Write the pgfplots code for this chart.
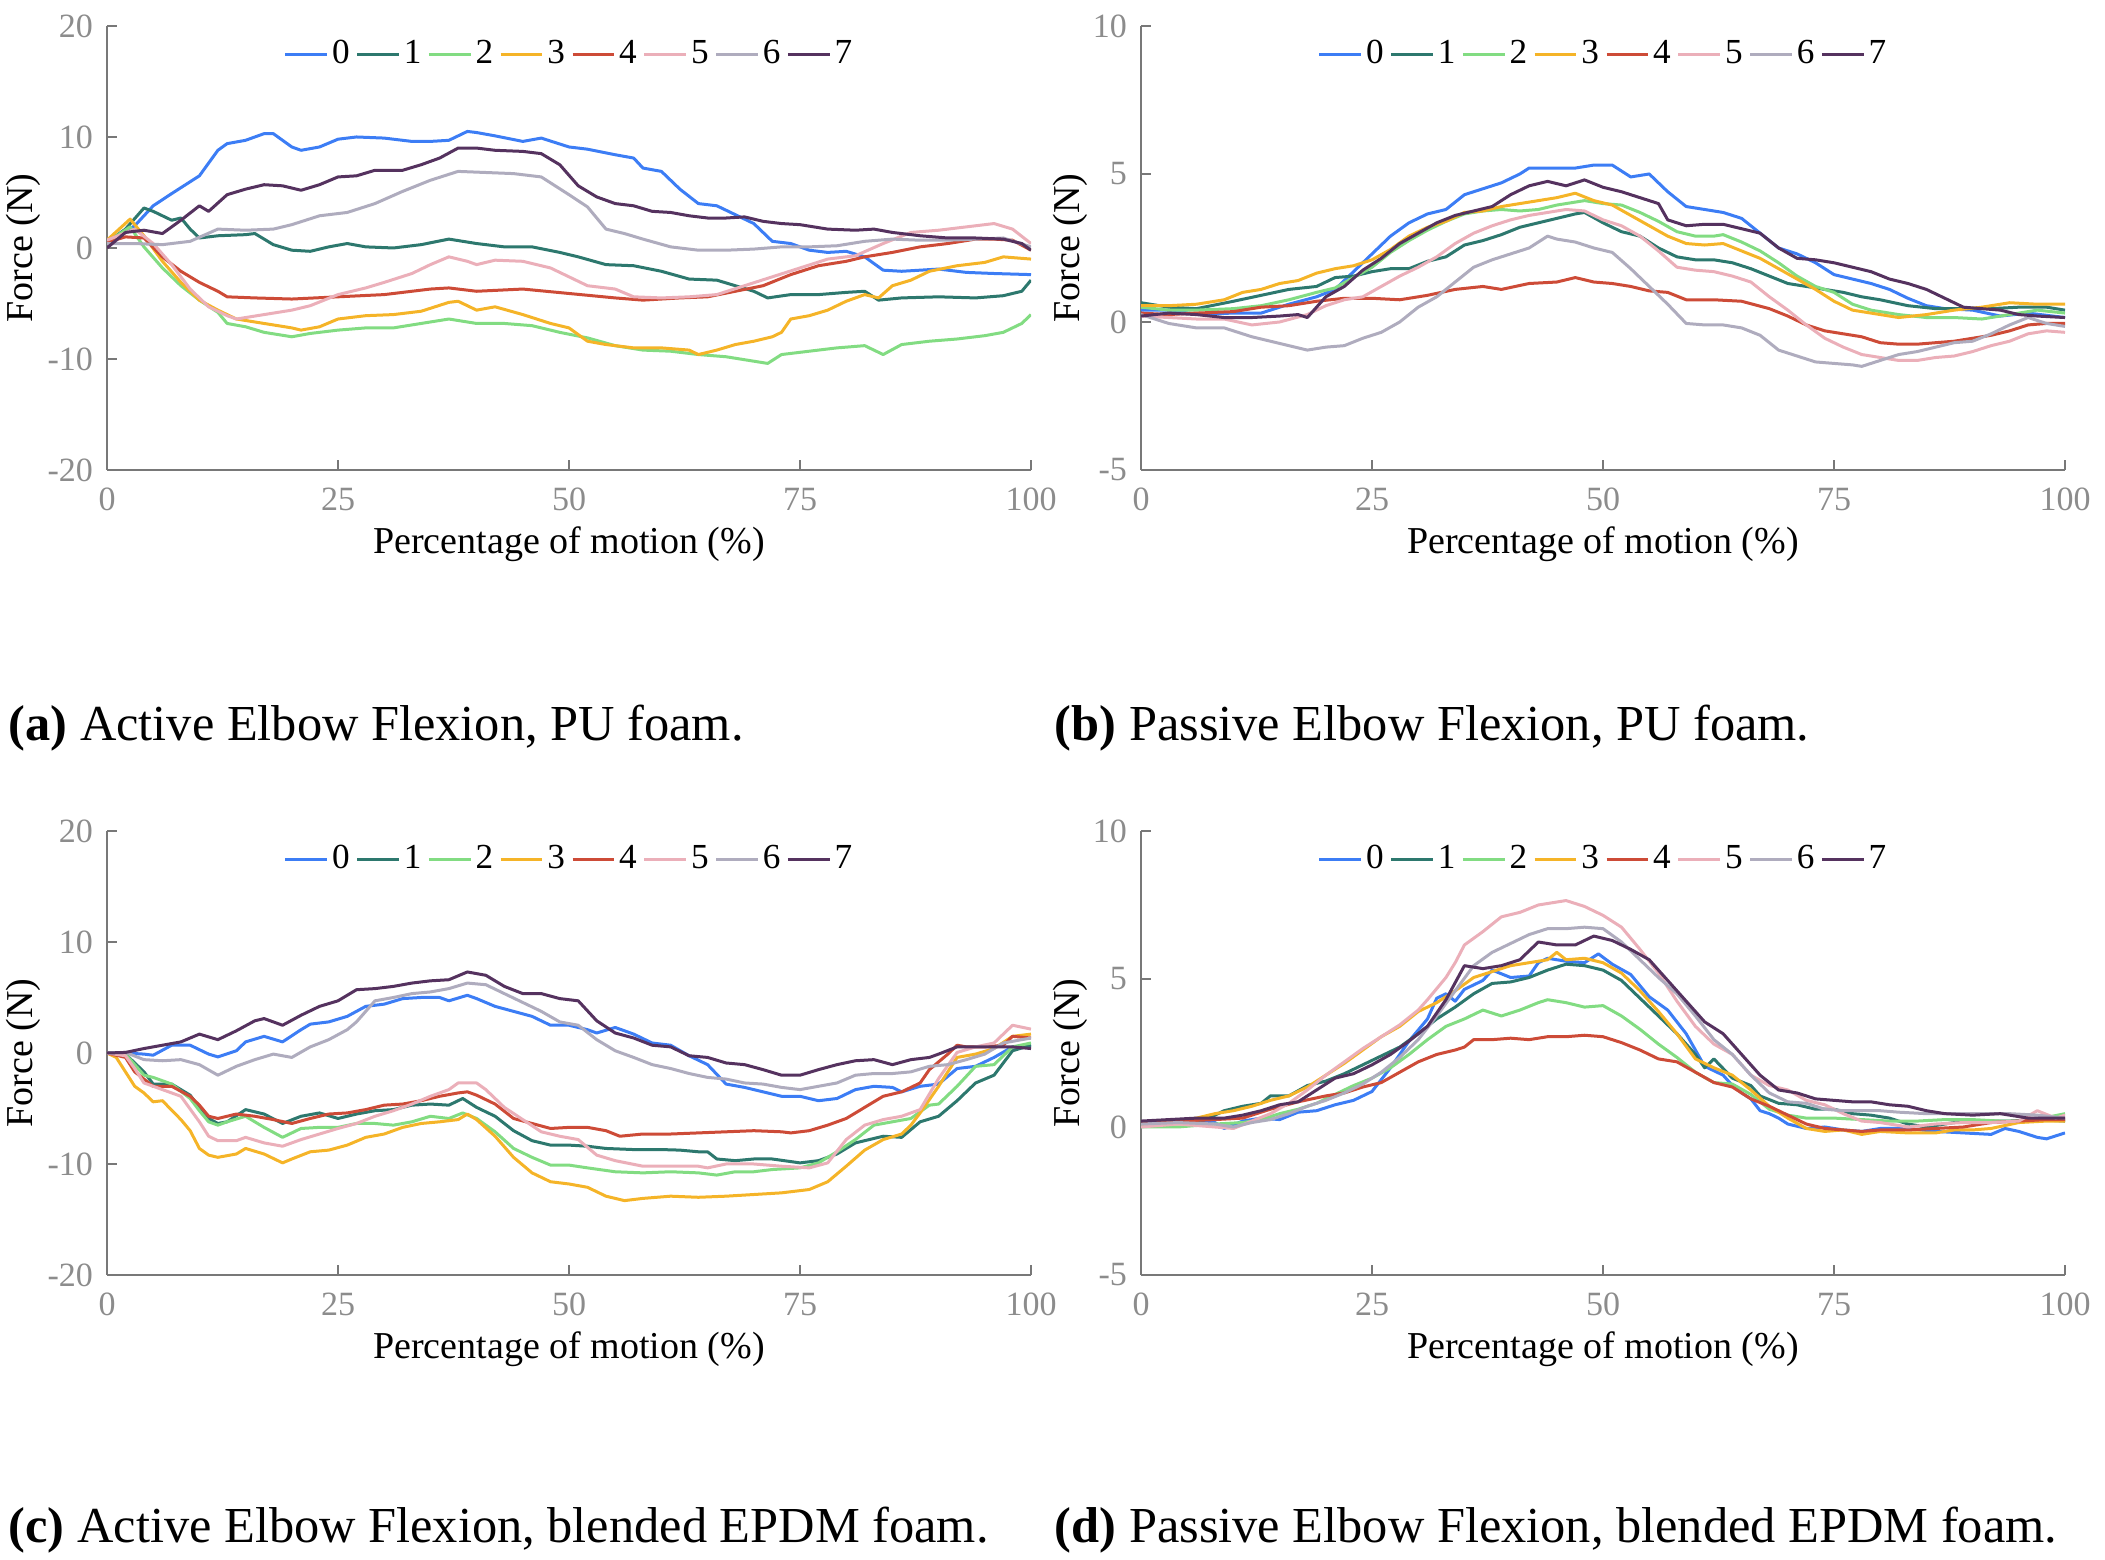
\documentclass[border=0pt]{standalone}
\usepackage{fontspec}
\setmainfont{Liberation Serif}
\usepackage{pgfplots}
\pgfplotsset{compat=1.18}

\definecolor{c0}{RGB}{60,125,245}
\definecolor{c1}{RGB}{45,120,110}
\definecolor{c2}{RGB}{130,220,130}
\definecolor{c3}{RGB}{245,180,40}
\definecolor{c4}{RGB}{205,75,55}
\definecolor{c5}{RGB}{235,175,185}
\definecolor{c6}{RGB}{175,172,190}
\definecolor{c7}{RGB}{85,50,95}
\definecolor{axgray}{RGB}{120,120,120}
\definecolor{tkgray}{RGB}{140,140,140}

\pgfplotsset{
  panel/.style={
    width=231pt, height=111pt, scale only axis,
    xmin=0, xmax=100,
    axis lines=left, axis line style={-, draw=axgray, line width=0.5pt},
    tick align=inside, major tick length=2.5pt,
    tick style={draw=axgray, line width=0.5pt},
    xtick={0,25,50,75,100}, xticklabels={0,25,50,75,100},
    ticklabel style={font=\fontsize{8.5}{10}\selectfont, text=tkgray},
    xticklabel style={yshift=-1pt},
    xlabel={Percentage of motion (\%)},
    ylabel={Force (N)},
    label style={font=\fontsize{9.5}{11}\selectfont},
    xlabel style={at={(axis description cs:0.5,0)}, anchor=center, yshift=-18.5pt},
    legend columns=8,
    legend style={draw=none, fill=none, at={(0.5,0.935)}, anchor=center,
      font=\fontsize{8.8}{10}\selectfont, inner sep=0pt,
      nodes={inner xsep=0.5pt, inner ysep=1pt},
      /tikz/every odd column/.append style={column sep=0.4pt},
      /tikz/every even column/.append style={column sep=1pt}},
    legend image code/.code={\draw[##1] (0pt,0pt) -- (10.4pt,0pt);},
    every axis plot/.append style={line width=0.75pt, line join=round},
  },
  active/.style={panel, ymin=-20, ymax=20, ytick={-20,-10,0,10,20},
    yticklabels={-20,-10,0,10,20},
    ylabel style={at={(axis description cs:-0.09,0.5)}, anchor=center}},
  passive/.style={panel, ymin=-5, ymax=10, ytick={-5,0,5,10},
    yticklabels={-5,0,5,10},
    ylabel style={at={(axis description cs:-0.076,0.5)}, anchor=center}},
}

\begin{document}
\begin{tikzpicture}
\useasboundingbox (0,0) rectangle (526.25pt,390pt);

%%% (a) active, PU foam
\begin{axis}[active, at={(26.75pt,272.5pt)}, anchor=south west]
\addplot[c0] coordinates {(0,0.5)(3,2)(5,3.8)(7,4.9)(10,6.5)(12,8.8)(13,9.4)(15,9.7)(17,10.3)(18,10.3)(20,9.1)(21,8.8)(23,9.1)(25,9.8)(27,10)(30,9.9)(33,9.6)(35,9.6)(37,9.7)(39,10.5)(40,10.4)(42,10.1)(45,9.6)(47,9.9)(50,9.1)(52,8.9)(55,8.4)(57,8.1)(58,7.2)(60,6.9)(62,5.3)(64,4.0)(66,3.8)(68,3.0)(70,2.2)(72,0.6)(74,0.4)(76,-0.2)(78,-0.4)(80,-0.3)(82,-0.8)(84,-2.0)(86,-2.1)(88,-2.0)(90,-1.9)(93,-2.2)(96,-2.3)(100,-2.4)};
\addlegendentry{0}
\addplot[c1] coordinates {(0,0.5)(2,1.7)(4,3.6)(5,3.3)(6,2.9)(7,2.5)(8,2.7)(9,1.7)(10,0.9)(12,1.1)(15,1.2)(16,1.3)(18,0.3)(20,-0.2)(22,-0.3)(24,0.1)(26,0.4)(28,0.1)(31,0)(34,0.3)(37,0.8)(40,0.4)(43,0.1)(46,0.1)(49,-0.4)(51,-0.8)(54,-1.5)(57,-1.6)(60,-2.1)(63,-2.8)(66,-2.9)(68,-3.4)(70,-3.9)(71.5,-4.5)(74,-4.2)(77,-4.2)(80,-4.0)(82,-3.9)(83.5,-4.7)(86,-4.5)(90,-4.4)(94,-4.5)(97,-4.3)(99,-3.9)(100,-2.9)};
\addlegendentry{1}
\addplot[c2] coordinates {(0,0.5)(2.5,1.9)(4,0.1)(6,-1.8)(8,-3.4)(10,-4.7)(12,-5.8)(13,-6.8)(15,-7.1)(17,-7.6)(20,-8.0)(22,-7.7)(25,-7.4)(28,-7.2)(31,-7.2)(34,-6.8)(37,-6.4)(40,-6.8)(43,-6.8)(46,-7.0)(49,-7.6)(52,-8.1)(55,-8.8)(58,-9.2)(61,-9.3)(64,-9.6)(67,-9.8)(70,-10.2)(71.5,-10.4)(73,-9.6)(76,-9.3)(79,-9.0)(82,-8.8)(84,-9.6)(86,-8.7)(89,-8.4)(92,-8.2)(95,-7.9)(97,-7.6)(99,-6.8)(100,-6.0)};
\addlegendentry{2}
\addplot[c3] coordinates {(0,0.7)(2.5,2.6)(4,1.1)(6,-1.2)(8,-3.1)(10,-4.7)(12,-5.6)(14,-6.4)(17,-6.8)(20,-7.2)(21,-7.4)(23,-7.1)(25,-6.4)(28,-6.1)(31,-6.0)(34,-5.7)(37,-4.9)(38,-4.8)(40,-5.6)(42,-5.3)(45,-6.0)(48,-6.8)(50,-7.2)(52,-8.4)(54,-8.7)(57,-9.0)(60,-9.0)(63,-9.2)(64,-9.6)(66,-9.2)(68,-8.7)(70,-8.4)(72,-8.0)(73,-7.6)(74,-6.4)(76,-6.1)(78,-5.6)(80,-4.8)(82,-4.2)(83.5,-4.5)(85,-3.4)(87,-2.9)(89,-2.1)(92,-1.6)(95,-1.3)(97,-0.8)(100,-1.0)};
\addlegendentry{3}
\addplot[c4] coordinates {(0,0.5)(2,1.0)(4,0.9)(6,-0.8)(8,-2.1)(10,-3.1)(12,-3.9)(13,-4.4)(16,-4.5)(20,-4.6)(25,-4.4)(30,-4.2)(35,-3.7)(37,-3.6)(40,-3.9)(45,-3.7)(50,-4.1)(55,-4.5)(58,-4.7)(62,-4.5)(65,-4.4)(68,-3.9)(71,-3.4)(74,-2.4)(77,-1.6)(80,-1.2)(82,-0.8)(85,-0.4)(88,0.1)(91,0.4)(94,0.8)(96,0.8)(98,0.7)(100,-0.2)};
\addlegendentry{4}
\addplot[c5] coordinates {(0,0.7)(3,1.7)(5,0.4)(7,-1.5)(9,-3.7)(11,-5.3)(13,-6.1)(14,-6.4)(17,-6.0)(20,-5.6)(22,-5.2)(25,-4.2)(28,-3.6)(30,-3.1)(33,-2.3)(35,-1.5)(37,-0.8)(39,-1.2)(40,-1.5)(42,-1.1)(45,-1.2)(48,-1.8)(50,-2.6)(52,-3.4)(55,-3.7)(57,-4.4)(60,-4.5)(63,-4.4)(66,-4.2)(69,-3.4)(72,-2.6)(75,-1.8)(78,-1.0)(81,-0.7)(84,0.4)(87,1.4)(90,1.6)(93,1.9)(96,2.2)(98,1.7)(100,0.4)};
\addlegendentry{5}
\addplot[c6] coordinates {(0,0.4)(3,0.4)(6,0.3)(9,0.6)(12,1.7)(15,1.6)(18,1.7)(20,2.1)(23,2.9)(26,3.2)(29,4.0)(32,5.1)(35,6.1)(38,6.9)(41,6.8)(44,6.7)(47,6.4)(50,4.8)(52,3.7)(54,1.7)(56,1.3)(58,0.8)(61,0.1)(64,-0.2)(67,-0.2)(70,-0.1)(73,0.1)(76,0.1)(79,0.2)(82,0.6)(85,0.8)(88,0.7)(91,0.7)(94,0.8)(97,0.9)(100,0.1)};
\addlegendentry{6}
\addplot[c7] coordinates {(0,0)(2,1.4)(4,1.6)(6,1.3)(8,2.5)(10,3.8)(11,3.3)(13,4.8)(15,5.3)(17,5.7)(19,5.6)(21,5.2)(23,5.7)(25,6.4)(27,6.5)(29,7.0)(32,7.0)(34,7.5)(36,8.1)(38,9.0)(40,9.0)(42,8.8)(45,8.7)(47,8.5)(49,7.5)(51,5.6)(53,4.6)(55,4.0)(57,3.8)(59,3.3)(61,3.2)(63,2.9)(65,2.7)(67,2.7)(69,2.8)(71,2.4)(73,2.2)(75,2.1)(78,1.7)(81,1.6)(83,1.7)(85,1.4)(88,1.1)(91,0.9)(94,0.9)(97,0.8)(99,0.4)(100,-0.2)};
\addlegendentry{7}
\end{axis}

%%% (b) passive, PU foam
\begin{axis}[passive, at={(285.25pt,272.5pt)}, anchor=south west]
\addplot[c0] coordinates {(0,0.4)(3,0.4)(6,0.26)(10,0.3)(13,0.3)(16,0.6)(19,0.85)(21,1.1)(23,1.7)(25,2.3)(27,2.9)(29,3.35)(31,3.65)(33,3.8)(35,4.3)(37,4.5)(39,4.7)(41,5.0)(42,5.2)(45,5.2)(47,5.2)(49,5.3)(51,5.3)(53,4.9)(55,5.0)(57,4.4)(59,3.9)(61,3.8)(63,3.7)(65,3.5)(67,3.0)(69,2.5)(71,2.3)(73,2.0)(75,1.6)(77,1.45)(79,1.3)(81,1.1)(83,0.8)(85,0.55)(87,0.45)(90,0.4)(93,0.2)(96,0.3)(100,0.15)};
\addlegendentry{0}
\addplot[c1] coordinates {(0,0.65)(3,0.5)(6,0.45)(10,0.7)(13,0.9)(16,1.1)(19,1.2)(21,1.5)(23,1.55)(25,1.7)(27,1.8)(29,1.8)(31,2.05)(33,2.2)(35,2.6)(37,2.75)(39,2.95)(41,3.2)(43,3.35)(45,3.5)(47,3.65)(48,3.7)(50,3.35)(52,3.05)(54,2.9)(56,2.5)(58,2.2)(60,2.1)(62,2.1)(64,2.0)(66,1.8)(68,1.55)(70,1.3)(72,1.2)(74,1.1)(76,1.0)(78,0.85)(80,0.75)(83,0.55)(86,0.45)(89,0.45)(92,0.45)(95,0.5)(98,0.5)(100,0.4)};
\addlegendentry{1}
\addplot[c2] coordinates {(0,0.5)(3,0.4)(6,0.4)(10,0.45)(13,0.55)(16,0.75)(19,1.0)(21,1.15)(23,1.5)(25,1.85)(27,2.35)(29,2.75)(31,3.1)(33,3.4)(35,3.65)(37,3.75)(39,3.8)(41,3.75)(43,3.8)(45,3.95)(47,4.05)(48,4.1)(50,4.0)(52,3.95)(54,3.7)(56,3.4)(58,3.05)(60,2.9)(62,2.9)(63,2.95)(65,2.7)(67,2.4)(69,2.0)(71,1.55)(73,1.2)(75,1.0)(77,0.6)(79,0.4)(82,0.25)(85,0.15)(88,0.15)(91,0.1)(94,0.25)(97,0.4)(100,0.3)};
\addlegendentry{2}
\addplot[c3] coordinates {(0,0.55)(3,0.55)(6,0.6)(9,0.75)(11,1.0)(13,1.1)(15,1.3)(17,1.4)(19,1.65)(21,1.8)(23,1.9)(25,2.1)(27,2.45)(29,2.9)(31,3.2)(33,3.4)(35,3.7)(37,3.75)(39,3.9)(41,4.0)(43,4.1)(45,4.2)(47,4.35)(49,4.1)(51,3.95)(53,3.6)(55,3.25)(57,2.9)(59,2.65)(61,2.6)(63,2.65)(65,2.4)(67,2.15)(69,1.8)(71,1.45)(73,1.1)(75,0.7)(77,0.4)(79,0.3)(82,0.15)(85,0.25)(88,0.4)(91,0.5)(94,0.65)(97,0.6)(100,0.6)};
\addlegendentry{3}
\addplot[c4] coordinates {(0,0.3)(3,0.25)(6,0.3)(10,0.35)(13,0.5)(16,0.55)(19,0.7)(22,0.8)(25,0.8)(28,0.75)(31,0.9)(34,1.1)(37,1.2)(39,1.1)(42,1.3)(45,1.35)(47,1.5)(49,1.35)(51,1.3)(53,1.2)(55,1.05)(57,1.0)(59,0.75)(62,0.75)(65,0.7)(68,0.45)(70,0.2)(72,-0.1)(74,-0.3)(76,-0.4)(78,-0.5)(80,-0.7)(82,-0.75)(84,-0.75)(86,-0.7)(88,-0.65)(90,-0.55)(92,-0.45)(94,-0.3)(96,-0.1)(98,-0.05)(100,-0.05)};
\addlegendentry{4}
\addplot[c5] coordinates {(0,0.2)(3,0.15)(6,0.1)(9,0.1)(12,-0.1)(15,0.0)(18,0.25)(20,0.55)(22,0.75)(24,0.85)(26,1.2)(28,1.55)(30,1.85)(32,2.2)(34,2.65)(36,3.0)(38,3.25)(40,3.45)(42,3.6)(44,3.7)(46,3.8)(48,3.75)(50,3.45)(52,3.25)(54,2.9)(56,2.4)(58,1.85)(60,1.75)(62,1.7)(64,1.55)(66,1.35)(68,0.85)(70,0.4)(72,-0.1)(74,-0.55)(76,-0.85)(78,-1.1)(80,-1.2)(82,-1.3)(84,-1.3)(86,-1.2)(88,-1.15)(90,-1.0)(92,-0.8)(94,-0.65)(96,-0.4)(98,-0.3)(100,-0.35)};
\addlegendentry{5}
\addplot[c6] coordinates {(0,0.25)(3,-0.05)(6,-0.2)(9,-0.2)(12,-0.5)(14,-0.65)(16,-0.8)(18,-0.95)(20,-0.85)(22,-0.8)(24,-0.55)(26,-0.35)(28,0.0)(30,0.5)(32,0.85)(34,1.35)(36,1.85)(38,2.1)(40,2.3)(42,2.5)(44,2.9)(45,2.8)(47,2.7)(49,2.5)(51,2.35)(53,1.8)(55,1.2)(57,0.6)(59,-0.05)(61,-0.1)(63,-0.1)(65,-0.2)(67,-0.45)(69,-0.95)(71,-1.15)(73,-1.35)(75,-1.4)(77,-1.45)(78,-1.5)(80,-1.3)(82,-1.1)(84,-1.0)(86,-0.85)(88,-0.7)(90,-0.65)(92,-0.4)(94,-0.1)(96,0.15)(98,-0.05)(100,-0.15)};
\addlegendentry{6}
\addplot[c7] coordinates {(0,0.2)(3,0.3)(6,0.25)(9,0.15)(12,0.15)(15,0.2)(17,0.25)(18,0.15)(20,0.85)(22,1.2)(24,1.75)(26,2.15)(28,2.65)(30,3.0)(32,3.35)(34,3.6)(36,3.75)(38,3.9)(40,4.3)(42,4.6)(44,4.75)(46,4.6)(48,4.8)(50,4.55)(52,4.4)(54,4.2)(56,4.0)(57,3.45)(59,3.25)(61,3.3)(63,3.3)(65,3.15)(67,3.0)(69,2.5)(71,2.15)(73,2.1)(75,2.0)(77,1.85)(79,1.7)(81,1.45)(83,1.3)(85,1.1)(87,0.8)(89,0.5)(91,0.45)(93,0.4)(95,0.25)(97,0.2)(100,0.15)};
\addlegendentry{7}
\end{axis}

%%% (c) active, blended EPDM foam
\begin{axis}[active, at={(26.75pt,71.25pt)}, anchor=south west]
\addplot[c0] coordinates {(0,0)(2,0)(4,-0.1)(5,-0.2)(7,0.7)(9,0.7)(11,-0.1)(12,-0.35)(14,0.2)(15,1.0)(17,1.5)(19,1.0)(21,2.1)(22,2.6)(24,2.8)(26,3.3)(28,4.2)(30,4.4)(32,4.9)(34,5.0)(36,5.0)(37,4.7)(39,5.2)(40,4.9)(42,4.2)(44,3.75)(46,3.3)(48,2.5)(50,2.5)(52,2.1)(53,1.8)(55,2.3)(57,1.7)(59,0.9)(61,0.7)(63,-0.25)(65,-1.05)(67,-2.8)(69,-3.1)(71,-3.5)(73,-3.9)(75,-3.9)(77,-4.3)(79,-4.1)(81,-3.3)(83,-3.0)(85,-3.1)(86,-3.5)(88,-3.0)(90,-2.8)(92,-1.4)(94,-1.2)(96,-0.4)(98,0.55)(100,0.7)};
\addlegendentry{0}
\addplot[c1] coordinates {(0,0)(2,-0.1)(4,-1.7)(5,-2.8)(7,-2.8)(9,-3.8)(10,-4.9)(11,-5.9)(12,-6.35)(13,-6.2)(15,-5.1)(17,-5.5)(19,-6.35)(21,-5.7)(23,-5.4)(25,-5.9)(27,-5.5)(29,-5.2)(31,-5.1)(33,-4.7)(35,-4.6)(37,-4.7)(38.5,-4.1)(40,-4.9)(42,-5.7)(44,-7.0)(46,-7.9)(48,-8.3)(50,-8.3)(52,-8.4)(54,-8.6)(57,-8.7)(60,-8.7)(62,-8.75)(64,-8.9)(65,-8.9)(66,-9.55)(68,-9.7)(70,-9.55)(72,-9.55)(75,-9.9)(77,-9.7)(79,-9.1)(81,-8.1)(84,-7.5)(86,-7.6)(88,-6.2)(90,-5.7)(92,-4.3)(94,-2.7)(96,-2.0)(98,0.2)(100,0.7)};
\addlegendentry{1}
\addplot[c2] coordinates {(0,0)(2,-0.1)(3,-1.05)(4,-2.0)(5,-2.2)(7,-2.8)(9,-4.1)(10,-5.2)(11,-6.2)(12,-6.5)(13,-6.2)(15,-5.7)(17,-6.7)(19,-7.6)(21,-6.8)(23,-6.7)(25,-6.7)(27,-6.35)(29,-6.35)(31,-6.5)(33,-6.2)(35,-5.7)(37,-5.9)(38.5,-5.4)(40,-5.9)(42,-7.1)(44,-8.6)(46,-9.4)(48,-10.1)(50,-10.1)(52,-10.35)(55,-10.7)(58,-10.8)(61,-10.7)(64,-10.8)(66,-11.0)(68,-10.7)(70,-10.7)(72,-10.5)(75,-10.35)(77,-9.9)(79,-8.9)(81,-7.8)(83,-6.5)(85,-6.2)(87,-5.9)(89,-4.7)(90,-4.6)(92,-3.0)(94,-1.2)(96,-1.05)(98,0.55)(100,0.9)};
\addlegendentry{2}
\addplot[c3] coordinates {(0,0)(1,-0.4)(2,-1.7)(3,-3.0)(4,-3.6)(5,-4.4)(6,-4.3)(8,-6.0)(9,-7.0)(10,-8.6)(11,-9.2)(12,-9.4)(14,-9.1)(15,-8.6)(17,-9.1)(19,-9.9)(20,-9.55)(22,-8.9)(24,-8.75)(26,-8.3)(28,-7.6)(30,-7.3)(32,-6.7)(34,-6.35)(36,-6.2)(38,-6.0)(39,-5.5)(40,-6.0)(42,-7.5)(44,-9.4)(46,-10.8)(48,-11.6)(50,-11.8)(52,-12.1)(54,-12.9)(56,-13.3)(58,-13.1)(61,-12.9)(64,-13.0)(67,-12.9)(70,-12.75)(73,-12.6)(76,-12.3)(78,-11.6)(80,-10.2)(82,-8.75)(84,-7.8)(86,-7.3)(87,-6.5)(88,-5.4)(90,-3.0)(92,-0.4)(94,-0.1)(96,0.4)(98,1.5)(100,1.7)};
\addlegendentry{3}
\addplot[c4] coordinates {(0,0)(2,-0.4)(3,-1.7)(5,-3.0)(7,-3.0)(9,-3.9)(10,-4.7)(11,-5.7)(12,-5.9)(14,-5.5)(16,-5.7)(18,-6.0)(20,-6.35)(22,-5.9)(24,-5.5)(26,-5.4)(28,-5.1)(30,-4.7)(32,-4.6)(34,-4.3)(36,-3.9)(38,-3.6)(39,-3.5)(40,-3.8)(42,-4.6)(44,-5.9)(46,-6.35)(48,-6.8)(50,-6.7)(52,-6.7)(54,-7.0)(55.5,-7.5)(58,-7.3)(61,-7.3)(64,-7.2)(67,-7.1)(70,-7.0)(73,-7.1)(74,-7.2)(76,-7.0)(78,-6.5)(80,-5.9)(82,-4.9)(84,-3.9)(86,-3.5)(88,-2.7)(89,-1.5)(91,-0.1)(92,0.7)(93,0.55)(95,0.55)(97,0.7)(98,1.5)(100,1.35)};
\addlegendentry{4}
\addplot[c5] coordinates {(0,0)(2,-0.25)(3,-1.4)(4,-2.7)(6,-3.3)(8,-3.9)(10,-6.2)(11,-7.5)(12,-7.9)(14,-7.9)(15,-7.6)(17,-8.1)(19,-8.4)(21,-7.8)(23,-7.3)(25,-6.8)(27,-6.35)(29,-5.7)(31,-5.2)(33,-4.6)(35,-3.9)(37,-3.3)(38,-2.7)(40,-2.7)(41,-3.3)(43,-4.9)(45,-6.0)(47,-7.1)(49,-7.5)(51,-7.8)(53,-9.2)(55,-9.7)(58,-10.2)(61,-10.2)(64,-10.2)(65,-10.35)(67,-10.0)(70,-10.0)(73,-10.2)(76,-10.35)(78,-9.9)(80,-7.8)(82,-6.5)(84,-6.0)(86,-5.7)(88,-5.1)(90,-2.3)(92,0.05)(94,0.55)(96,0.9)(98,2.5)(100,2.15)};
\addlegendentry{5}
\addplot[c6] coordinates {(0,0)(2,0.05)(4,-0.6)(6,-0.7)(8,-0.6)(10,-1.05)(12,-2.0)(14,-1.2)(16,-0.6)(18,-0.1)(20,-0.4)(22,0.55)(24,1.2)(26,2.1)(27,2.8)(29,4.7)(31,5.0)(33,5.35)(35,5.5)(37,5.8)(39,6.3)(41,6.15)(43,5.35)(45,4.55)(47,3.75)(49,2.8)(51,2.5)(53,1.2)(55,0.2)(57,-0.4)(59,-1.05)(61,-1.4)(63,-1.85)(65,-2.2)(67,-2.35)(69,-2.7)(71,-2.8)(73,-3.1)(75,-3.3)(77,-3.0)(79,-2.7)(81,-2.0)(83,-1.85)(85,-1.85)(87,-1.7)(89,-1.2)(91,-1.05)(93,-0.6)(95,-0.1)(97,0.9)(100,1.35)};
\addlegendentry{6}
\addplot[c7] coordinates {(0,0)(2,0.05)(4,0.4)(6,0.7)(8,1.0)(10,1.7)(12,1.2)(14,2.0)(16,2.9)(17,3.1)(19,2.5)(21,3.4)(23,4.2)(25,4.7)(27,5.7)(29,5.8)(31,6.0)(33,6.3)(35,6.5)(37,6.6)(39,7.3)(41,7.0)(43,6.0)(45,5.35)(47,5.35)(49,4.9)(51,4.7)(53,2.9)(55,1.8)(57,1.35)(59,0.7)(61,0.55)(63,-0.25)(65,-0.4)(67,-0.9)(69,-1.05)(71,-1.5)(73,-2.0)(75,-2.0)(77,-1.5)(79,-1.05)(81,-0.7)(83,-0.6)(85,-1.05)(87,-0.6)(89,-0.4)(90,-0.1)(92,0.55)(95,0.55)(98,0.55)(100,0.4)};
\addlegendentry{7}
\end{axis}

%%% (d) passive, blended EPDM foam
\begin{axis}[passive, at={(285.25pt,71.25pt)}, anchor=south west]
\addplot[c0] coordinates {(0,0.15)(4,0.15)(8,0.15)(9,-0.05)(11,0.2)(13,0.3)(15,0.25)(17,0.5)(19,0.55)(21,0.75)(23,0.9)(25,1.2)(27,2.0)(29,2.9)(31,3.65)(32,4.35)(33,4.5)(34,4.25)(35,4.65)(37,4.95)(38,5.3)(40,5.05)(42,5.1)(43,5.55)(44,5.7)(46,5.6)(48,5.55)(49.5,5.85)(51,5.5)(53,5.15)(55,4.4)(57,3.95)(59,3.15)(61,2.05)(63,1.75)(64,1.4)(65,1.15)(66,0.95)(67,0.55)(68,0.45)(69,0.3)(70,0.1)(72,-0.05)(74,0.0)(76,-0.1)(78,-0.15)(80,-0.05)(83,-0.05)(86,-0.15)(89,-0.2)(92,-0.25)(93.5,-0.05)(95,-0.15)(97,-0.35)(98,-0.4)(100,-0.2)};
\addlegendentry{0}
\addplot[c1] coordinates {(0,0.1)(4,0.15)(7,0.25)(9,0.55)(11,0.7)(13,0.8)(14,1.05)(16,1.05)(18,1.4)(20,1.55)(22,1.8)(24,2.1)(26,2.4)(28,2.7)(30,3.15)(32,3.65)(34,4.05)(36,4.5)(38,4.85)(40,4.9)(42,5.05)(44,5.3)(46,5.5)(48,5.45)(50,5.3)(52,4.95)(54,4.35)(56,3.75)(58,3.15)(60,2.45)(61,2.0)(62,2.3)(64,1.65)(66,1.4)(67,1.05)(69,0.8)(71,0.75)(73,0.6)(75,0.6)(77,0.45)(79,0.4)(81,0.3)(83,0.1)(85,0.0)(88,0.15)(91,0.2)(94,0.2)(97,0.25)(100,0.2)};
\addlegendentry{1}
\addplot[c2] coordinates {(0,0.0)(4,0.0)(8,0.1)(11,0.15)(13,0.25)(15,0.45)(17,0.6)(19,0.8)(21,1.1)(23,1.4)(25,1.65)(27,2.0)(29,2.45)(31,2.95)(33,3.4)(35,3.65)(37,3.95)(39,3.75)(41,3.95)(43,4.2)(44,4.3)(46,4.2)(48,4.05)(50,4.1)(52,3.75)(54,3.3)(56,2.8)(58,2.35)(60,1.85)(62,1.5)(64,1.45)(66,1.1)(68,0.6)(70,0.4)(72,0.3)(75,0.3)(78,0.25)(81,0.2)(84,0.2)(87,0.25)(90,0.25)(93,0.2)(96,0.2)(100,0.45)};
\addlegendentry{2}
\addplot[c3] coordinates {(0,0.1)(3,0.15)(6,0.3)(8,0.45)(10,0.55)(12,0.7)(14,0.9)(16,1.05)(18,1.35)(20,1.75)(22,2.15)(24,2.6)(26,3.05)(28,3.4)(30,3.9)(32,4.2)(34,4.6)(36,5.05)(38,5.25)(40,5.45)(42,5.55)(44,5.65)(45,5.9)(46,5.65)(48,5.7)(50,5.55)(52,5.2)(54,4.6)(56,3.9)(58,3.15)(60,2.3)(62,2.0)(64,1.75)(66,1.25)(68,0.7)(70,0.3)(72,-0.05)(74,-0.15)(76,-0.1)(78,-0.25)(80,-0.15)(83,-0.2)(86,-0.2)(88,-0.1)(90,-0.1)(92,-0.05)(95,0.15)(98,0.2)(100,0.2)};
\addlegendentry{3}
\addplot[c4] coordinates {(0,0.15)(4,0.2)(8,0.25)(11,0.3)(14,0.6)(17,0.85)(20,1.05)(22,1.15)(24,1.35)(26,1.5)(28,1.85)(30,2.2)(32,2.45)(34,2.6)(35,2.7)(36,2.95)(38,2.95)(40,3.0)(42,2.95)(44,3.05)(46,3.05)(48,3.1)(50,3.05)(52,2.85)(54,2.6)(56,2.3)(58,2.2)(60,1.85)(62,1.5)(64,1.35)(66,0.95)(68,0.7)(70,0.4)(72,0.1)(74,-0.05)(76,-0.1)(78,-0.15)(80,-0.1)(83,-0.1)(86,-0.05)(89,0.0)(92,0.15)(95,0.2)(98,0.25)(100,0.25)};
\addlegendentry{4}
\addplot[c5] coordinates {(0,0.0)(4,0.1)(8,0.0)(10,-0.05)(12,0.2)(14,0.45)(16,0.8)(18,1.25)(20,1.75)(22,2.2)(24,2.65)(26,3.05)(28,3.45)(30,3.95)(31,4.3)(33,5.05)(34,5.55)(35,6.15)(37,6.6)(39,7.1)(41,7.25)(43,7.5)(45,7.6)(46,7.65)(48,7.45)(50,7.15)(52,6.75)(54,6.0)(56,5.2)(58,4.25)(60,3.4)(62,2.8)(64,2.45)(66,1.75)(68,1.4)(70,1.25)(72,0.9)(74,0.75)(76,0.45)(78,0.2)(80,0.15)(83,0.0)(86,0.1)(89,0.15)(92,0.15)(95,0.2)(97,0.55)(99,0.3)(100,0.4)};
\addlegendentry{5}
\addplot[c6] coordinates {(0,0.1)(4,0.15)(8,0.1)(10,0.0)(12,0.15)(14,0.25)(16,0.45)(18,0.7)(20,0.9)(22,1.15)(24,1.45)(26,1.85)(28,2.35)(30,2.95)(32,3.75)(34,4.6)(36,5.45)(38,5.9)(40,6.2)(42,6.5)(44,6.7)(46,6.7)(48,6.75)(50,6.7)(52,6.25)(54,5.65)(56,5.05)(58,4.5)(60,3.75)(62,2.95)(64,2.45)(66,1.75)(68,1.15)(70,0.85)(72,0.8)(74,0.6)(76,0.55)(78,0.55)(80,0.55)(82,0.5)(85,0.45)(88,0.45)(91,0.45)(94,0.45)(97,0.4)(100,0.3)};
\addlegendentry{6}
\addplot[c7] coordinates {(0,0.2)(3,0.25)(6,0.3)(9,0.3)(11,0.4)(13,0.55)(15,0.75)(17,0.85)(19,1.25)(21,1.65)(23,1.8)(25,2.1)(27,2.45)(29,2.9)(31,3.4)(33,4.3)(35,5.45)(37,5.35)(39,5.45)(41,5.65)(43,6.25)(45,6.15)(47,6.15)(49,6.45)(51,6.3)(53,6.0)(55,5.65)(57,4.95)(59,4.25)(61,3.55)(63,3.15)(65,2.45)(67,1.75)(69,1.25)(71,1.15)(73,0.95)(75,0.9)(77,0.85)(79,0.85)(81,0.75)(83,0.7)(85,0.55)(87,0.45)(90,0.4)(93,0.45)(96,0.3)(100,0.3)};
\addlegendentry{7}
\end{axis}

%%% sub-captions
\node[anchor=base west, font=\fontsize{12.6}{15}\selectfont, inner sep=0pt] at (2pt,204.75pt) {\textbf{(a)} Active Elbow Flexion, PU foam.};
\node[anchor=base west, font=\fontsize{12.6}{15}\selectfont, inner sep=0pt] at (263.5pt,204.75pt) {\textbf{(b)} Passive Elbow Flexion, PU foam.};
\node[anchor=base west, font=\fontsize{12.6}{15}\selectfont, inner sep=0pt] at (2pt,4.5pt) {\textbf{(c)} Active Elbow Flexion, blended EPDM foam.};
\node[anchor=base west, font=\fontsize{12.6}{15}\selectfont, inner sep=0pt] at (263.5pt,4.5pt) {\textbf{(d)} Passive Elbow Flexion, blended EPDM foam.};
\end{tikzpicture}
\end{document}
